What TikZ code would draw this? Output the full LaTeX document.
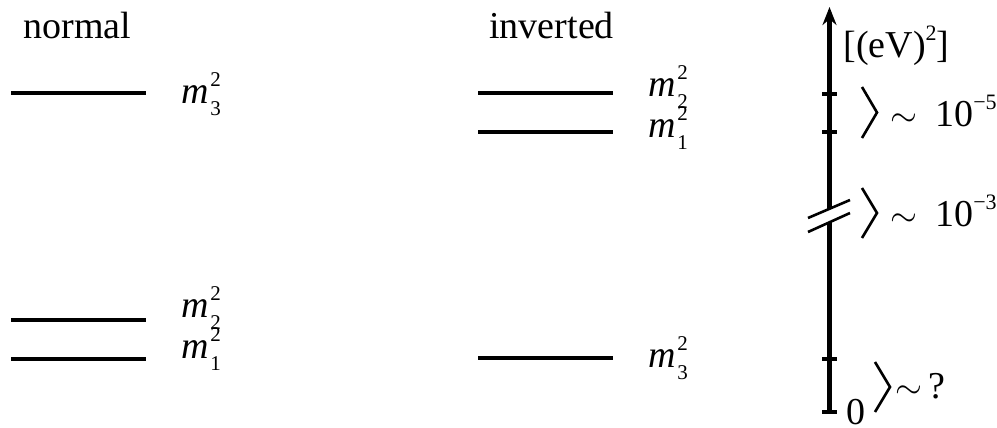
\documentclass[tikz,border=0pt]{standalone}
\usepackage{fontspec}
\setmainfont{Liberation Serif}
\usetikzlibrary{arrows.meta}
\newcommand\scrfont{\fontsize{10.5}{11}\selectfont}
\newcommand\msq[1]{\textit{m}\kern0.8pt\rlap{\raisebox{8.5pt}{\scrfont 2}}\raisebox{-6pt}{\scrfont #1}}
\newcommand\myexp[1]{\raisebox{8.5pt}{\fontsize{11}{11}\selectfont #1}}
\begin{document}
\begin{tikzpicture}[x=0.5pt,y=-0.5pt,
  txt/.style={anchor=base west,inner sep=0pt,font=\fontsize{19}{22}\selectfont},
  level/.style={line width=1.7pt},
  axis/.style={line width=2.2pt},
  tick/.style={line width=2pt},
  brk/.style={line width=1.3pt},
  bracket/.style={line width=1.3pt,line join=miter}]
\useasboundingbox (0,0) rectangle (997,428);
% headings
\node[txt] (hn) at (23,39) {normal};
\node[txt] (hi) at (489,39) {inverted};
% normal hierarchy
\coordinate (n3a) at (11,93);  \coordinate (n3b) at (146,93);
\coordinate (n2a) at (11,320); \coordinate (n2b) at (146,320);
\coordinate (n1a) at (11,359); \coordinate (n1b) at (146,359);
\draw[level] (n3a) -- (n3b);
\draw[level] (n2a) -- (n2b);
\draw[level] (n1a) -- (n1b);
\node[txt] (ln3) at (181,103) {\msq{3}};
\node[txt] (ln2) at (181,317) {\msq{2}};
\node[txt] (ln1) at (181,358) {\msq{1}};
% inverted hierarchy
\coordinate (i2a) at (478,93);  \coordinate (i2b) at (613,93);
\coordinate (i1a) at (478,132); \coordinate (i1b) at (613,132);
\coordinate (i3a) at (478,358); \coordinate (i3b) at (613,358);
\draw[level] (i2a) -- (i2b);
\draw[level] (i1a) -- (i1b);
\draw[level] (i3a) -- (i3b);
\node[txt] (li2) at (648,96) {\msq{2}};
\node[txt] (li1) at (648,137) {\msq{1}};
\node[txt] (li3) at (648,367) {\msq{3}};
% axis
\coordinate (atop) at (829.5,7);
\coordinate (abrk1) at (829.5,209);
\coordinate (abrk2) at (829.5,222);
\coordinate (abot) at (829.5,413);
\draw[axis,-{Stealth[length=9pt,width=7pt]}] (abrk1) -- (atop);
\draw[axis] (abrk2) -- (abot);
% break marks
\coordinate (s1a) at (808,218); \coordinate (s1b) at (850,200);
\coordinate (s2a) at (808,232); \coordinate (s2b) at (850,213);
\draw[brk] (s1a) -- (s1b);
\draw[brk] (s2a) -- (s2b);
% ticks
\foreach \y/\n in {94/t1,132/t2,359/t3,412/t4}{
  \coordinate (\n a) at (822,\y); \coordinate (\n b) at (837,\y);
  \draw[tick] (\n a) -- (\n b);
}
% axis labels
\node[txt] (unit) at (843,57) {[(eV)\myexp{2}]};
\node[txt] (zero) at (846,424) {0};
% brackets
\coordinate (b1a) at (862,87);  \coordinate (b1m) at (877,112.5); \coordinate (b1b) at (862,138);
\coordinate (b2a) at (862,188); \coordinate (b2m) at (877,213);   \coordinate (b2b) at (862,238);
\coordinate (b3a) at (875,362); \coordinate (b3m) at (890,387);   \coordinate (b3b) at (875,412);
\draw[bracket] (b1a) -- (b1m) -- (b1b);
\draw[bracket] (b2a) -- (b2m) -- (b2b);
\draw[bracket] (b3a) -- (b3m) -- (b3b);
\node[txt] (v1) at (890,126) {$\sim$\hspace{9pt}10\myexp{\char"2212 5}};
\node[txt] (v2) at (890,226) {$\sim$\hspace{9pt}10\myexp{\char"2212 3}};
\node[txt] (v3) at (895,398) {$\sim$\,?};
\end{tikzpicture}
\end{document}
